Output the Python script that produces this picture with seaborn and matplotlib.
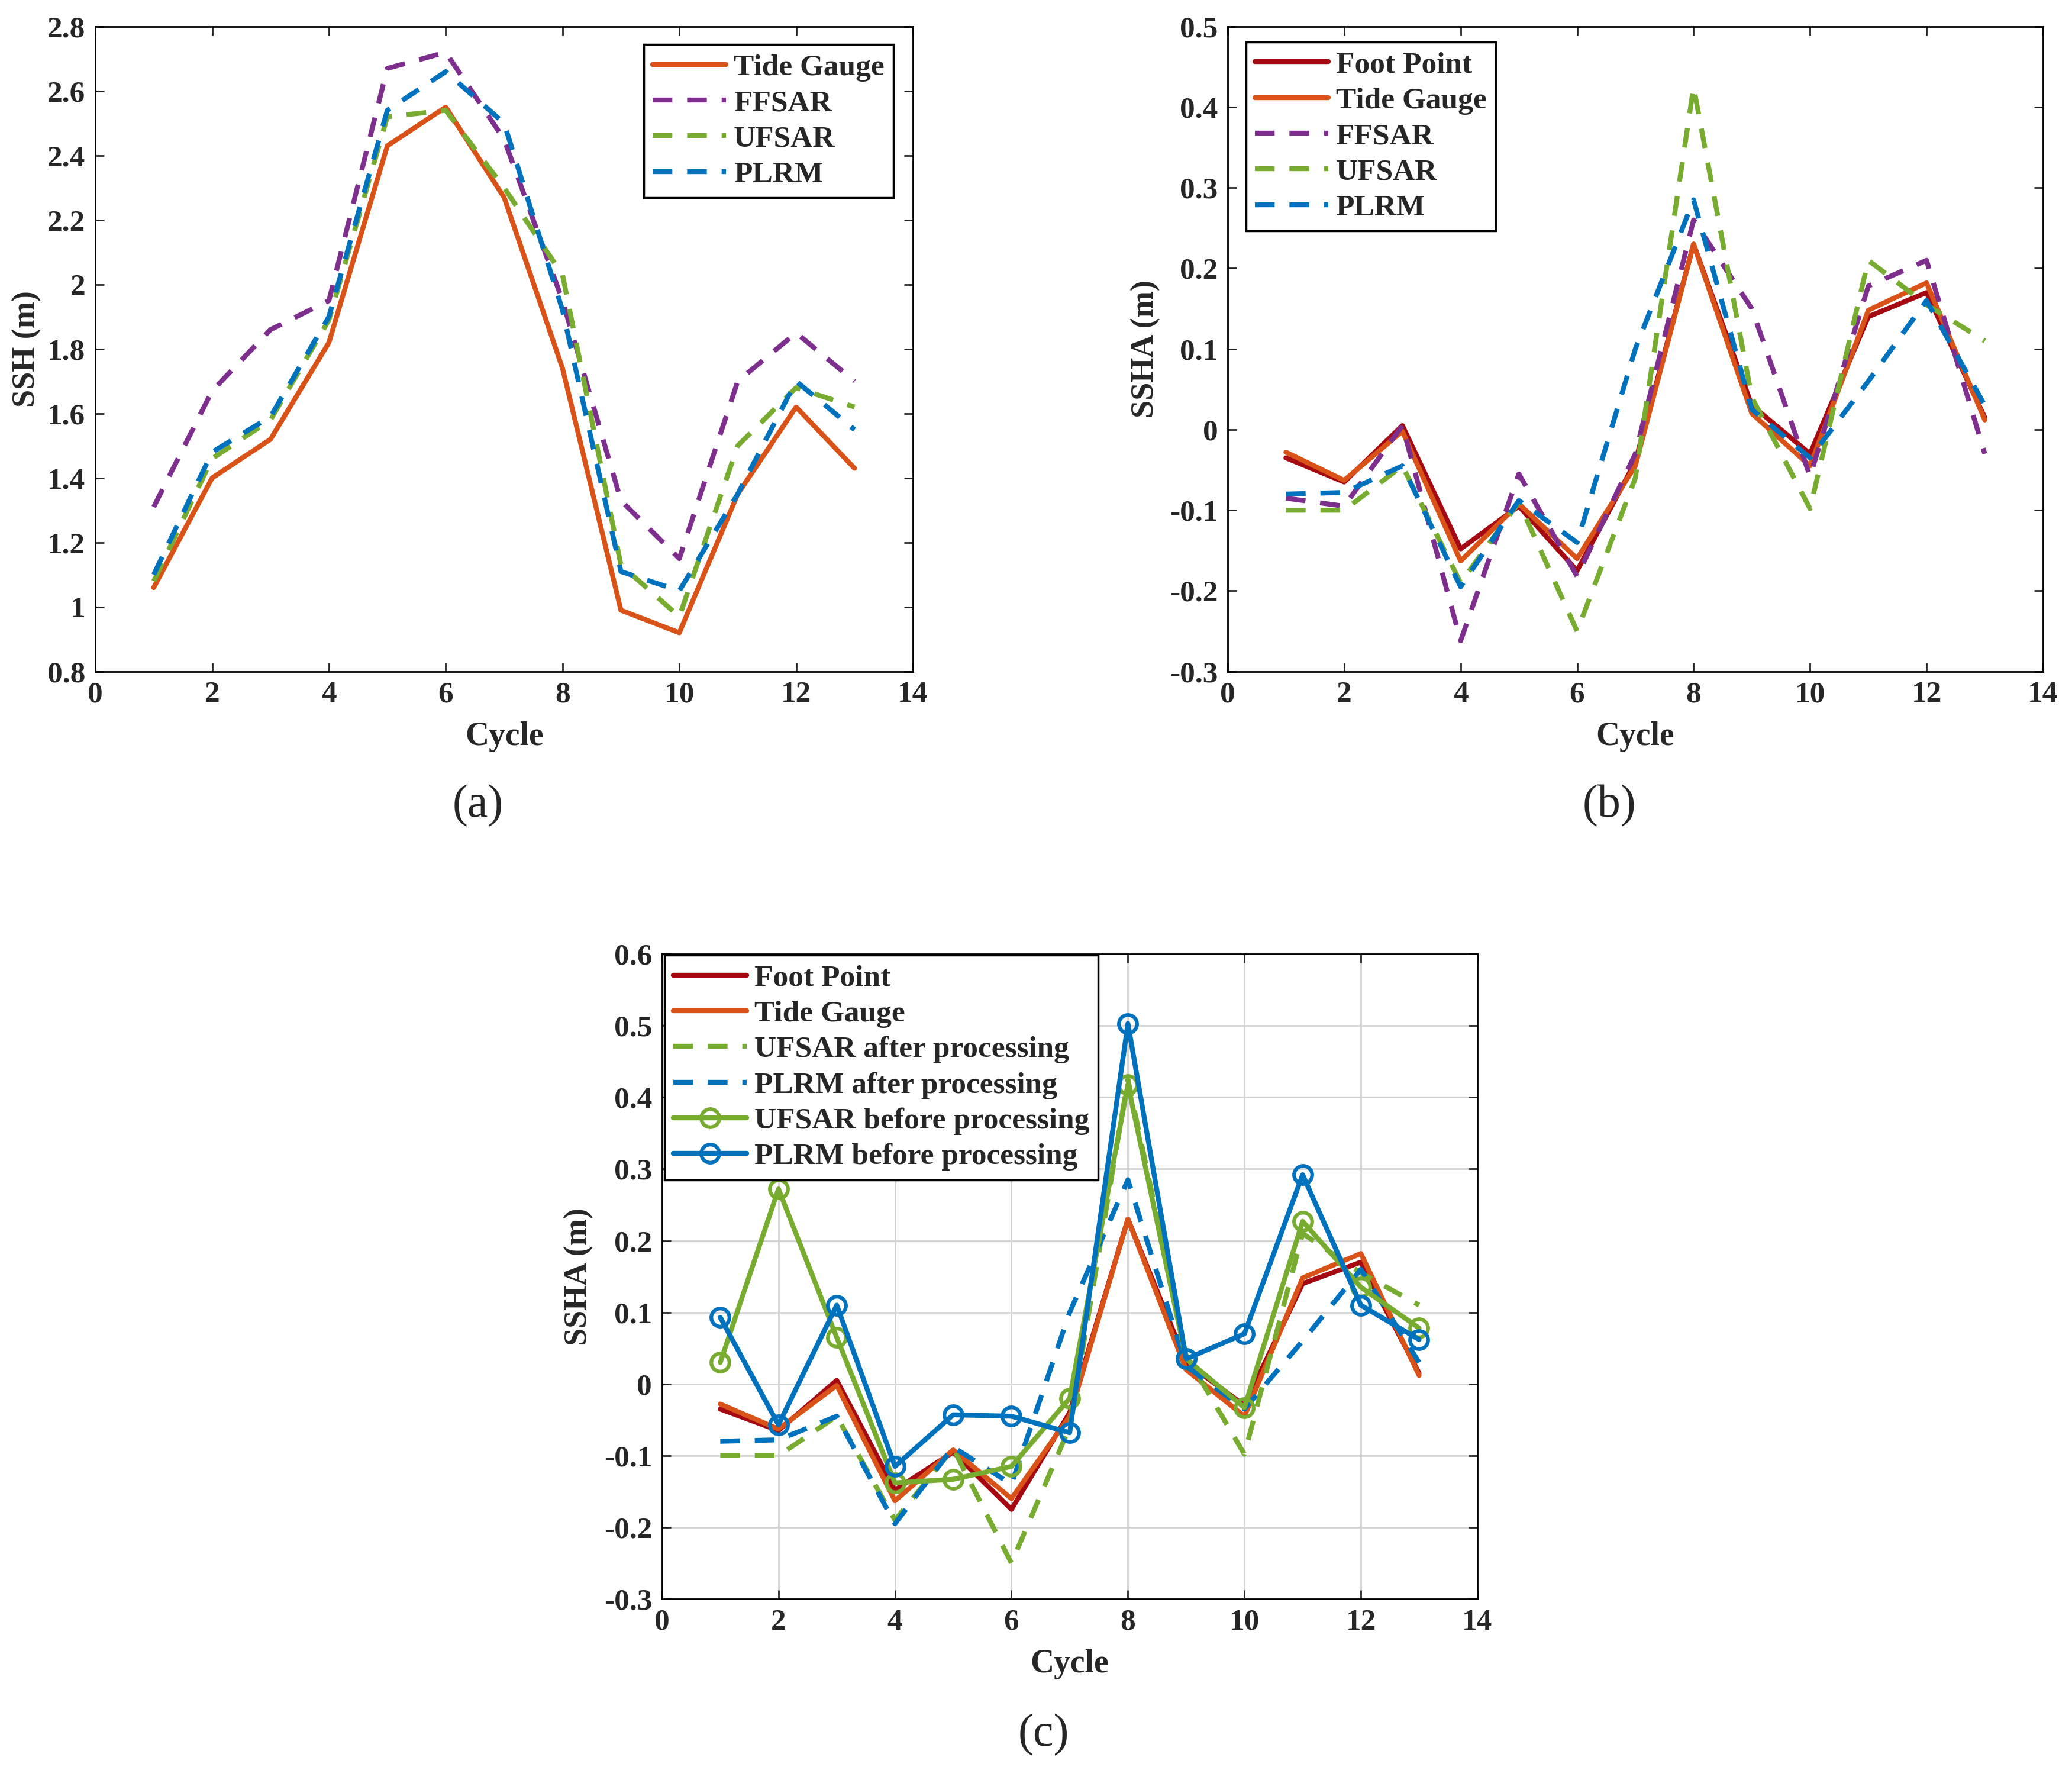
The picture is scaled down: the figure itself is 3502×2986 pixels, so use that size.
import numpy as np
import pandas as pd
import matplotlib
matplotlib.use("Agg")
import matplotlib.pyplot as plt
import seaborn as sns
from matplotlib.ticker import FuncFormatter, MultipleLocator

# cycles shared by all panels
cycles = list(range(1, 14))

# panel (a) SSH (m)
ssh_tide = [1.06, 1.40, 1.52, 1.82, 2.43, 2.55, 2.27, 1.74, 0.99, 0.92, 1.35, 1.62, 1.43]
ssh_ffsar = [1.31, 1.67, 1.86, 1.95, 2.67, 2.72, 2.45, 1.95, 1.33, 1.15, 1.70, 1.85, 1.70]
ssh_ufsar = [1.08, 1.46, 1.58, 1.89, 2.52, 2.54, 2.30, 2.03, 1.13, 0.97, 1.50, 1.68, 1.62]
ssh_plrm = [1.10, 1.48, 1.59, 1.90, 2.54, 2.66, 2.50, 1.92, 1.11, 1.05, 1.35, 1.70, 1.55]

# panel (b) / (c) SSHA (m)
ssha_foot = [-0.035, -0.065, 0.005, -0.148, -0.095, -0.175, -0.040, 0.230, 0.030, -0.030, 0.140, 0.170, 0.015]
ssha_tide = [-0.028, -0.063, -0.002, -0.163, -0.092, -0.160, -0.045, 0.230, 0.020, -0.045, 0.148, 0.182, 0.012]
ssha_ffsar = [-0.085, -0.095, 0.005, -0.262, -0.055, -0.182, -0.030, 0.260, 0.150, -0.058, 0.178, 0.210, -0.030]
ssha_ufsar = [-0.100, -0.100, -0.045, -0.190, -0.090, -0.250, -0.060, 0.425, 0.040, -0.098, 0.210, 0.155, 0.110]
ssha_plrm = [-0.080, -0.078, -0.045, -0.195, -0.088, -0.140, 0.100, 0.285, 0.025, -0.035, 0.060, 0.160, 0.030]

# panel (c) before processing
ufsar_before = [0.030, 0.272, 0.065, -0.138, -0.133, -0.115, -0.020, 0.418, 0.035, -0.033, 0.227, 0.135, 0.078]
plrm_before = [0.093, -0.057, 0.110, -0.115, -0.043, -0.045, -0.068, 0.503, 0.035, 0.070, 0.292, 0.110, 0.062]

C_FOOT = "#A50A12"
C_TIDE = "#D95319"
C_FF = "#7E2F8E"
C_UF = "#77AC30"
C_PL = "#0072BD"

LW = 6
DASH = (0, (4, 3))
FS = 37

sns.set_style("ticks")
plt.rcParams["font.family"] = ["Liberation Serif", "DejaVu Serif"]
plt.rcParams["font.weight"] = "bold"
plt.rcParams["axes.unicode_minus"] = False


def fmt(v, pos):
    s = f"{v:.1f}".rstrip("0").rstrip(".")
    return "0" if s in ("-0", "") else s


def style_axes(ax, ylim, ystep, ylabel, grid=False):
    ax.set_xlim(0, 14)
    ax.set_ylim(*ylim)
    ax.xaxis.set_major_locator(MultipleLocator(2))
    ax.yaxis.set_major_locator(MultipleLocator(ystep))
    ax.yaxis.set_major_formatter(FuncFormatter(fmt))
    ax.tick_params(direction="in", top=True, right=True, length=11, width=2,
                   labelsize=FS, pad=12)
    for lab in ax.get_xticklabels() + ax.get_yticklabels():
        lab.set_fontweight("bold")
    for sp in ax.spines.values():
        sp.set_visible(True)
        sp.set_color("black")
        sp.set_linewidth(2)
    ax.set_xlabel("Cycle", fontsize=40, fontweight="bold")
    ax.set_ylabel(ylabel, fontsize=39, fontweight="bold")
    if grid:
        ax.grid(True, color="#d4d4d4", linewidth=2)
        ax.set_axisbelow(True)
    else:
        ax.grid(False)


def legend(ax, loc, anchor):
    leg = ax.legend(loc=loc, bbox_to_anchor=anchor, borderaxespad=0, fancybox=False,
                    edgecolor="black", framealpha=1, prop={"size": FS, "weight": "bold"},
                    handlelength=2.4, handletextpad=0.25, labelspacing=0.26,
                    borderpad=0.3)
    leg.get_frame().set_linewidth(2.5)


fig = plt.figure(figsize=(35.02, 29.86), dpi=100)
ax_a = fig.add_axes([0.046, 0.620, 0.3946, 0.365])
ax_b = fig.add_axes([0.5925, 0.620, 0.3935, 0.365])
ax_c = fig.add_axes([0.3195, 0.0951, 0.3935, 0.365])

# (a)
sns.lineplot(x=cycles, y=ssh_tide, ax=ax_a, color=C_TIDE, lw=LW, label="Tide Gauge")
sns.lineplot(x=cycles, y=ssh_ffsar, ax=ax_a, color=C_FF, lw=LW, linestyle=DASH, label="FFSAR")
sns.lineplot(x=cycles, y=ssh_ufsar, ax=ax_a, color=C_UF, lw=LW, linestyle=DASH, label="UFSAR")
sns.lineplot(x=cycles, y=ssh_plrm, ax=ax_a, color=C_PL, lw=LW, linestyle=DASH, label="PLRM")
style_axes(ax_a, (0.8, 2.8), 0.2, "SSH (m)")
legend(ax_a, "upper right", (0.976, 0.972))

# (b)
sns.lineplot(x=cycles, y=ssha_foot, ax=ax_b, color=C_FOOT, lw=LW, label="Foot Point")
sns.lineplot(x=cycles, y=ssha_tide, ax=ax_b, color=C_TIDE, lw=LW, label="Tide Gauge")
sns.lineplot(x=cycles, y=ssha_ffsar, ax=ax_b, color=C_FF, lw=LW, linestyle=DASH, label="FFSAR")
sns.lineplot(x=cycles, y=ssha_ufsar, ax=ax_b, color=C_UF, lw=LW, linestyle=DASH, label="UFSAR")
sns.lineplot(x=cycles, y=ssha_plrm, ax=ax_b, color=C_PL, lw=LW, linestyle=DASH, label="PLRM")
style_axes(ax_b, (-0.3, 0.5), 0.1, "SSHA (m)")
legend(ax_b, "upper left", (0.0225, 0.976))

# (c)
sns.lineplot(x=cycles, y=ssha_foot, ax=ax_c, color=C_FOOT, lw=LW, label="Foot Point")
sns.lineplot(x=cycles, y=ssha_tide, ax=ax_c, color=C_TIDE, lw=LW, label="Tide Gauge")
sns.lineplot(x=cycles, y=ssha_ufsar, ax=ax_c, color=C_UF, lw=LW, linestyle=DASH,
             label="UFSAR after processing")
sns.lineplot(x=cycles, y=ssha_plrm, ax=ax_c, color=C_PL, lw=LW, linestyle=DASH,
             label="PLRM after processing")
sns.lineplot(x=cycles, y=ufsar_before, ax=ax_c, color=C_UF, lw=LW, marker="o", markersize=22,
             markerfacecolor="none", markeredgecolor=C_UF, markeredgewidth=4.5,
             label="UFSAR before processing")
sns.lineplot(x=cycles, y=plrm_before, ax=ax_c, color=C_PL, lw=LW, marker="o", markersize=22,
             markerfacecolor="none", markeredgecolor=C_PL, markeredgewidth=4.5,
             label="PLRM before processing")
style_axes(ax_c, (-0.3, 0.6), 0.1, "SSHA (m)", grid=True)
legend(ax_c, "upper left", (0.003, 0.998))

# axis label positions
ax_a.yaxis.set_label_coords(-0.084, 0.5)
ax_b.yaxis.set_label_coords(-0.101, 0.5)
ax_c.yaxis.set_label_coords(-0.102, 0.5)
for ax in (ax_a, ax_b, ax_c):
    ax.yaxis.label.set_va("center")
    ax.xaxis.label.set_va("center")
    ax.xaxis.set_label_coords(0.5, -0.101)

fig.text(0.2307, 0.5439, "(a)", fontsize=56, fontweight="normal", ha="center", va="center")
fig.text(0.7767, 0.5439, "(b)", fontsize=56, fontweight="normal", ha="center", va="center")
fig.text(0.5037, 0.0181, "(c)", fontsize=56, fontweight="normal", ha="center", va="center")

fig.savefig("out.png", dpi=100, facecolor="white")
